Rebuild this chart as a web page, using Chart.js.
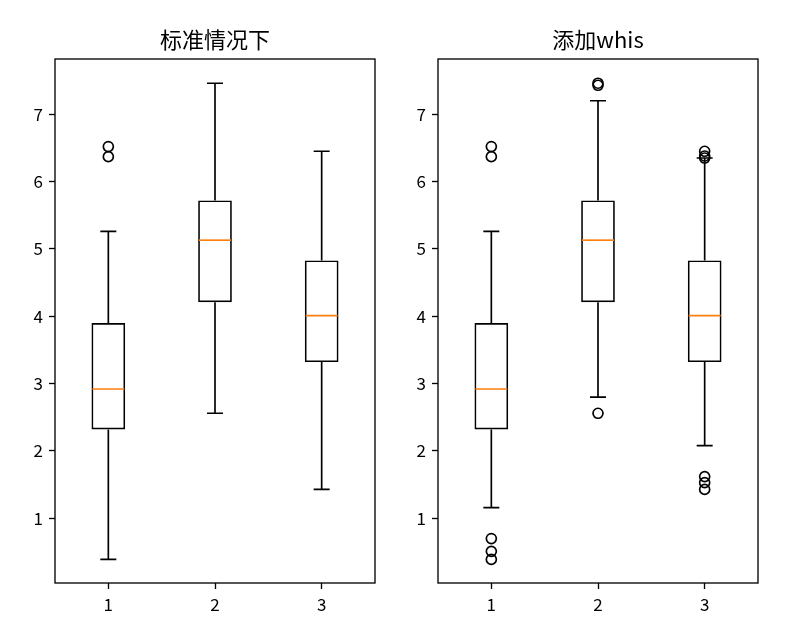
<!DOCTYPE html>
<html><head><meta charset="utf-8">
<script src="https://cdn.jsdelivr.net/npm/chart.js@4"></script>
<style>
html,body{margin:0;padding:0;background:#fff;}
#wrap{position:relative;width:800px;height:629px;overflow:hidden;}
.c{position:absolute;top:0;height:629px;}
</style></head><body>
<div id="wrap">
<div class="c" style="left:0;width:400px"><canvas id="left"></canvas></div>
<div class="c" style="left:400px;width:400px"><canvas id="right"></canvas></div>
</div>
<script>
// ---- data ----
const categories = [1, 2, 3];
const xTickLabels = ['1', '2', '3'];
const yTickValues = [1, 2, 3, 4, 5, 6, 7];
const yMin = 0.04;
const yMax = 7.82;

const leftTitle = '标准情况下';
const leftQ1 = [2.32, 4.21, 3.32];
const leftMedian = [2.92, 5.13, 4.01];
const leftQ3 = [3.90, 5.72, 4.83];
const leftWhiskerLow = [0.39, 2.56, 1.43];
const leftWhiskerHigh = [5.26, 7.46, 6.45];
const leftOutliers = [[6.37, 6.52], [], []];

const rightTitle = '添加whis';
const rightQ1 = [2.32, 4.21, 3.32];
const rightMedian = [2.92, 5.13, 4.01];
const rightQ3 = [3.90, 5.72, 4.83];
const rightWhiskerLow = [1.16, 2.80, 2.08];
const rightWhiskerHigh = [5.26, 7.20, 6.35];
const rightOutliers = [[0.39, 0.51, 0.70, 6.37, 6.52], [2.56, 7.43, 7.46], [1.43, 1.53, 1.62, 6.35, 6.38, 6.45]];

// ---- styling ----
const FONT = "'Noto Sans CJK SC', 'DejaVu Sans', sans-serif";
const BOX_HALF = 0.15;   // box half width in category units
const CAP_HALF = 0.075;  // cap half width
const LW = 1.67;
const SPINE_W = 1.33;

const boxParts = {
  id: 'boxParts',
  afterDatasetsDraw(chart, args, o) {
    const xs = chart.scales.x, ys = chart.scales.y, ctx = chart.ctx;
    ctx.save();
    ctx.lineWidth = LW;
    ctx.lineCap = 'butt';
    categories.forEach((c, i) => {
      const xc = xs.getPixelForValue(c);
      const xl = xs.getPixelForValue(c - CAP_HALF), xr = xs.getPixelForValue(c + CAP_HALF);
      ctx.strokeStyle = '#000';
      ctx.beginPath();
      ctx.moveTo(xc, ys.getPixelForValue(o.q1[i]));
      ctx.lineTo(xc, ys.getPixelForValue(o.low[i]));
      ctx.moveTo(xc, ys.getPixelForValue(o.q3[i]));
      ctx.lineTo(xc, ys.getPixelForValue(o.high[i]));
      ctx.moveTo(xl, ys.getPixelForValue(o.low[i]));
      ctx.lineTo(xr, ys.getPixelForValue(o.low[i]));
      ctx.moveTo(xl, ys.getPixelForValue(o.high[i]));
      ctx.lineTo(xr, ys.getPixelForValue(o.high[i]));
      ctx.stroke();
      ctx.strokeStyle = '#ff7f0e';
      ctx.beginPath();
      ctx.moveTo(xs.getPixelForValue(c - BOX_HALF), ys.getPixelForValue(o.median[i]));
      ctx.lineTo(xs.getPixelForValue(c + BOX_HALF), ys.getPixelForValue(o.median[i]));
      ctx.stroke();
    });
    ctx.restore();
  }
};

const frame = {
  id: 'frame',
  afterDraw(chart) {
    const a = chart.chartArea, ctx = chart.ctx;
    ctx.save();
    ctx.strokeStyle = '#000';
    ctx.lineWidth = SPINE_W;
    ctx.strokeRect(a.left, a.top, a.right - a.left, a.bottom - a.top);
    ctx.restore();
  }
};

function makeChart(id, title, q1, median, q3, low, high, outliers, yAxisWidth, padRight) {
  const boxes = categories.map((c, i) => ({ x: c, y: [q1[i], q3[i]] }));
  const pts = [];
  categories.forEach((c, i) => outliers[i].forEach(v => pts.push({ x: c, y: v })));
  return new Chart(document.getElementById(id), {
    type: 'bar',
    data: {
      datasets: [
        {
          type: 'bar', data: boxes,
          backgroundColor: 'rgba(0,0,0,0)', borderColor: '#000', borderWidth: LW,
          borderSkipped: false, barPercentage: 2 * BOX_HALF + 0.016, categoryPercentage: 1.0
        },
        {
          type: 'scatter', data: pts, showLine: false,
          pointStyle: 'circle', pointRadius: 5, pointBorderWidth: LW,
          pointBorderColor: '#000', pointBackgroundColor: 'rgba(0,0,0,0)'
        }
      ]
    },
    options: {
      responsive: true, maintainAspectRatio: false, animation: false, events: [],
      layout: { padding: { left: 0, right: padRight, top: 0, bottom: 0 } },
      plugins: {
        legend: { display: false }, tooltip: { enabled: false },
        title: {
          display: true, text: title, fullSize: false, color: '#000',
          font: { family: FONT, size: 22, weight: 'normal', lineHeight: 1.2 },
          padding: { top: 26, bottom: 6.6 }
        },
        boxParts: { q1, median, q3, low, high }
      },
      scales: {
        x: {
          type: 'linear', min: 0.5, max: 3.5, offset: false,
          afterBuildTicks: s => { s.ticks = categories.map(v => ({ value: v })); },
          afterFit: s => { s.height = 46; },
          ticks: {
            color: '#000', padding: 5, maxRotation: 0,
            font: { family: FONT, size: 17 },
            callback: (v) => xTickLabels[categories.indexOf(v)]
          },
          grid: { display: true, drawOnChartArea: false, drawTicks: true, tickLength: 6, tickWidth: SPINE_W, tickColor: '#000', offset: false },
          border: { display: false }
        },
        y: {
          type: 'linear', min: yMin, max: yMax,
          afterBuildTicks: s => { s.ticks = yTickValues.map(v => ({ value: v })); },
          afterFit: s => { s.width = yAxisWidth; },
          ticks: {
            color: '#000', padding: 6,
            font: { family: FONT, size: 17 },
            callback: (v) => String(v)
          },
          grid: { display: true, drawOnChartArea: false, drawTicks: true, tickLength: 6, tickWidth: SPINE_W, tickColor: '#000' },
          border: { display: false }
        }
      }
    },
    plugins: [boxParts, frame]
  });
}

makeChart('left', leftTitle, leftQ1, leftMedian, leftQ3, leftWhiskerLow, leftWhiskerHigh, leftOutliers, 55, 25);
makeChart('right', rightTitle, rightQ1, rightMedian, rightQ3, rightWhiskerLow, rightWhiskerHigh, rightOutliers, 38, 42);
</script>
</body></html>
